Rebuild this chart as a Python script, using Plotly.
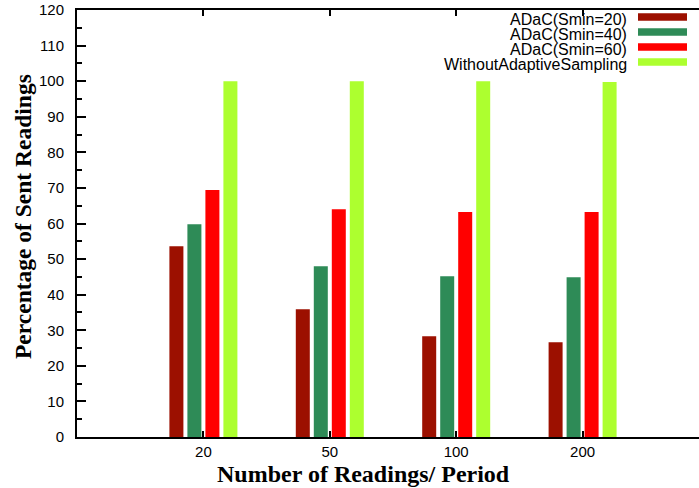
import plotly.graph_objects as go

categories = ["20", "50", "100", "200"]
series_names = ["ADaC(Smin=20)", "ADaC(Smin=40)", "ADaC(Smin=60)", "WithoutAdaptiveSampling"]
smin20 = [53.6, 35.9, 28.3, 26.6]
smin40 = [59.8, 48.0, 45.2, 44.9]
smin60 = [69.4, 64.0, 63.2, 63.2]
without_sampling = [100.0, 100.0, 100.0, 99.8]
y_ticks = list(range(0, 121, 10))

series_values = [smin20, smin40, smin60, without_sampling]
colors = ["#9C1000", "#2E8B57", "#FF0000", "#ADFF2F"]

W, H = 699, 488
L, R, T, B = 77, 0, 10, 51
plot_w = W - L - R
plot_h = H - T - B
px_per_cat = 126.4
xpos = list(range(1, len(categories) + 1))

fig = go.Figure()
for name, vals, col in zip(series_names, series_values, colors):
    fig.add_trace(go.Bar(x=xpos, y=vals, name=name, marker=dict(color=col, line=dict(width=0)),
                         showlegend=False))

def px_x(p):
    return (p - L) / plot_w

def px_y(p):
    return (H - B - p) / plot_h

# Legend (gnuplot style: text then swatch on the right)
shapes = []
annotations = []
row_y = [17, 32, 47, 62]
for name, col, ry in zip(series_names, colors, row_y):
    shapes.append(dict(type="rect", xref="paper", yref="paper",
                       x0=px_x(638), x1=px_x(687), y0=px_y(ry + 3.7), y1=px_y(ry - 3.7),
                       fillcolor=col, line=dict(width=0)))
    annotations.append(dict(text=name, xref="paper", yref="paper", x=px_x(629), y=px_y(ry + 2.5),
                            xanchor="right", yanchor="middle", showarrow=False,
                            font=dict(family="Liberation Sans, Arial", size=16, color="black")))

annotations.append(dict(text="<b>Number of Readings/ Period</b>", xref="paper", yref="paper",
                        x=px_x(363), y=px_y(474), xanchor="center", yanchor="middle",
                        showarrow=False,
                        font=dict(family="Liberation Serif, Times New Roman", size=24, color="black")))
annotations.append(dict(text="<b>Percentage of Sent Readings</b>", xref="paper", yref="paper",
                        x=px_x(23), y=px_y(217), xanchor="center", yanchor="middle",
                        textangle=-90, showarrow=False,
                        font=dict(family="Liberation Serif, Times New Roman", size=23.5, color="black")))

fig.update_layout(
    width=W, height=H,
    margin=dict(l=L, r=R, t=T, b=B, pad=0, autoexpand=False),
    paper_bgcolor="white", plot_bgcolor="white",
    barmode="group", bargap=0.4304, bargroupgap=0.222,
    shapes=shapes, annotations=annotations,
    showlegend=False,
)
fig.update_xaxes(
    range=[0, plot_w / px_per_cat], tickvals=xpos, ticktext=categories,
    showline=True, linewidth=2, linecolor="black", mirror="ticks",
    ticks="inside", ticklen=6, tickwidth=1.5, tickcolor="black",
    showgrid=False, zeroline=False, ticklabelstandoff=0, automargin=False,
    tickfont=dict(family="Liberation Sans, Arial", size=15, color="black"),
)
fig.update_yaxes(
    range=[0, 120], tickvals=y_ticks,
    showline=True, linewidth=2, linecolor="black", mirror=False,
    ticks="inside", ticklen=9, tickwidth=1.5, tickcolor="black",
    minor=dict(ticks="inside", ticklen=5, dtick=5, tickwidth=1.5, tickcolor="black", showgrid=False),
    showgrid=False, zeroline=False, ticklabelstandoff=8, automargin=False,
    tickfont=dict(family="Liberation Sans, Arial", size=15, color="black"),
)

fig.write_html(
    "out.html",
    config={"displayModeBar": False},
    post_script="document.body.style.margin='0';document.body.style.overflow='hidden';",
)
